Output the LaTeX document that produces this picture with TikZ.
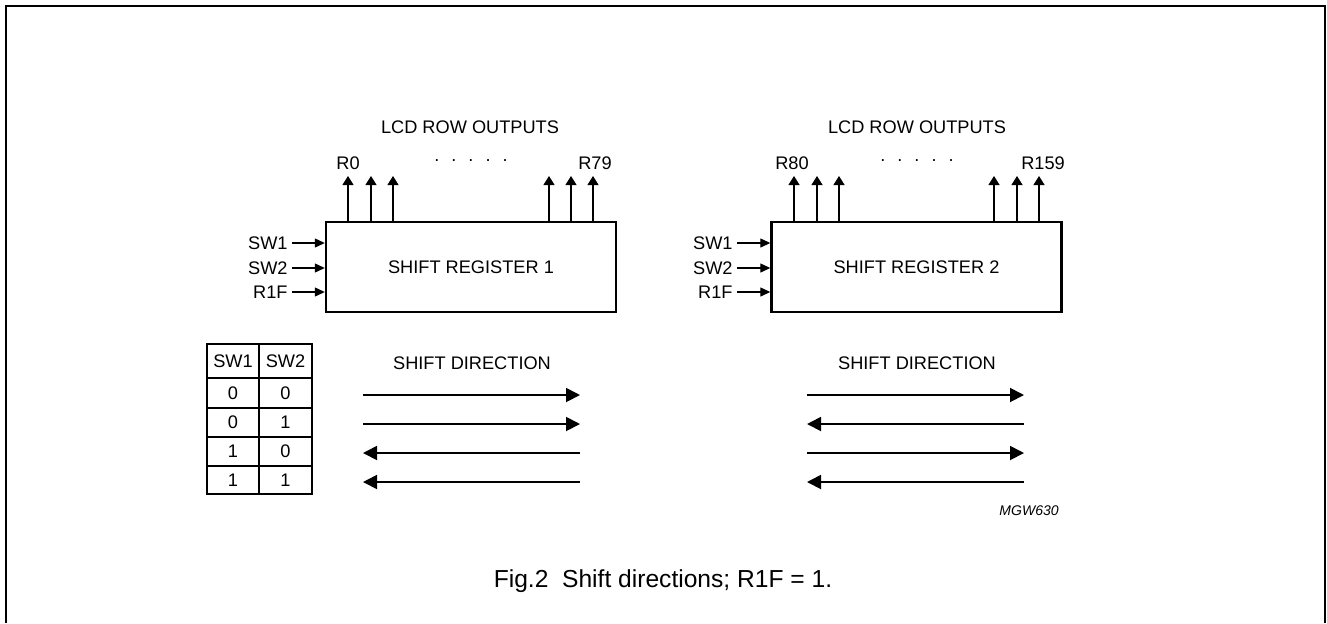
\documentclass[tikz,border=0pt]{standalone}
\usepackage{fontspec}
\setmainfont{Liberation Sans}
\usetikzlibrary{arrows.meta}
\begin{document}
\begin{tikzpicture}[x=0.5pt,y=-0.5pt,
  lbl/.style={font=\fontsize{9.1}{10}\selectfont, inner sep=2pt},
  regbox/.style={draw, line width=1.2pt, minimum width=145pt, minimum height=45pt, inner sep=0pt, font=\fontsize{9.1}{10}\selectfont},
  outarr/.style={line width=0.6pt, -{Triangle[length=4.5pt,width=5.5pt]}},
  inarr/.style={line width=0.6pt, -{Triangle[length=5pt,width=4.5pt]}},
  sharr/.style={line width=0.9pt, -{Triangle[length=7pt,width=7pt]}},
  cell/.style={font=\fontsize{9.1}{10}\selectfont, inner sep=0pt},
  frame/.style={line width=1pt}
]
\useasboundingbox (0,0) rectangle (1327,623);
% outer frame
\draw[frame] (6,623) -- (6,6) -- (1325,6) -- (1325,623);

% ---------- register 1 ----------
\node[regbox] (sr1) at (471,267) {SHIFT REGISTER 1};
\node[lbl] (lcd1) at (470,127) {LCD ROW OUTPUTS};
\node[lbl] (r0) at (348,163) {R0};
\node[lbl] (r79) at (595,163) {R79};
\node[lbl] (dots1) at (471,161) {.\hspace{6pt}.\hspace{6pt}.\hspace{6pt}.\hspace{6pt}.};
\foreach \i/\x in {a/348,b/371,c/393,d/549,e/571,f/593} {
  \coordinate (o1\i) at (\x,176);
  \draw[outarr] (o1\i |- sr1.north) -- (o1\i);
}
\node[lbl, anchor=east] (sw1a) at (292,243) {SW1};
\node[lbl, anchor=east] (sw2a) at (292,268) {SW2};
\node[lbl, anchor=east] (r1fa) at (292,292) {R1F};
\foreach \n in {sw1a,sw2a,r1fa} {
  \draw[inarr] (\n.east) -- (\n.east -| sr1.west);
}

% ---------- register 2 ----------
\node[regbox] (sr2) at (916.5,267) {SHIFT REGISTER 2};
\node[lbl] (lcd2) at (917,127) {LCD ROW OUTPUTS};
\node[lbl] (r80) at (792,163) {R80};
\node[lbl] (r159) at (1043,163) {R159};
\node[lbl] (dots2) at (917,161) {.\hspace{6pt}.\hspace{6pt}.\hspace{6pt}.\hspace{6pt}.};
\foreach \i/\x in {a/794,b/817,c/839,d/994,e/1017,f/1039} {
  \coordinate (o2\i) at (\x,176);
  \draw[outarr] (o2\i |- sr2.north) -- (o2\i);
}
\node[lbl, anchor=east] (sw1b) at (737,243) {SW1};
\node[lbl, anchor=east] (sw2b) at (737,268) {SW2};
\node[lbl, anchor=east] (r1fb) at (737,292) {R1F};
\foreach \n in {sw1b,sw2b,r1fb} {
  \draw[inarr] (\n.east) -- (\n.east -| sr2.west);
}

% ---------- table ----------
\draw[line width=0.6pt] (207,344) rectangle (312,494);
\foreach \y in {378,408,437,466} { \draw[line width=0.6pt] (207,\y) -- (312,\y); }
\draw[line width=0.6pt] (259,344) -- (259,494);
\node[cell] (h1) at (233,361) {SW1};
\node[cell] (h2) at (285.5,361) {SW2};
\foreach \y/\a/\b in {393/0/0,422.5/0/1,451.5/1/0,480/1/1} {
  \node[cell] at (233,\y) {\a};
  \node[cell] at (285.5,\y) {\b};
}

% ---------- shift directions ----------
\node[lbl] (sd1) at (472,363) {SHIFT DIRECTION};
\node[lbl] (sd2) at (917,363) {SHIFT DIRECTION};
\foreach \k/\y in {1/395,2/424,3/453,4/482} {
  \coordinate (la\k) at (363,\y); \coordinate (ra\k) at (580,\y);
  \coordinate (lb\k) at (807,\y); \coordinate (rb\k) at (1024,\y);
}
\draw[sharr] (la1) -- (ra1);
\draw[sharr] (la2) -- (ra2);
\draw[sharr] (ra3) -- (la3);
\draw[sharr] (ra4) -- (la4);
\draw[sharr] (lb1) -- (rb1);
\draw[sharr] (rb2) -- (lb2);
\draw[sharr] (lb3) -- (rb3);
\draw[sharr] (rb4) -- (lb4);

\node[font=\fontsize{7}{8}\selectfont\itshape, anchor=east, inner sep=0pt] (mgw) at (1059,511) {MGW630};

\node[font=\fontsize{12.3}{14}\selectfont, inner sep=0pt] (cap) at (663,581) {Fig.2\ \ Shift directions; R1F = 1.};
\end{tikzpicture}
\end{document}
